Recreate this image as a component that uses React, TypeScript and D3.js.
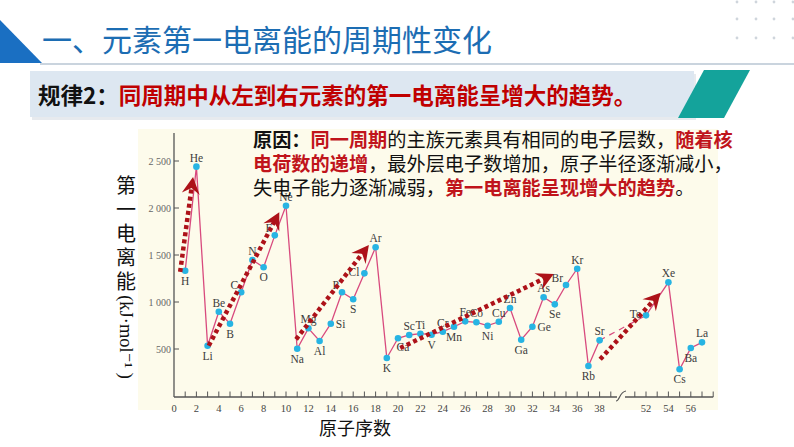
import React from "react";
import * as d3 from "d3";

const symbols = ["H","He","Li","Be","B","C","N","O","F","Ne","Na","Mg","Al","Si","P","S","Cl","Ar","K","Ca","Sc","Ti","V","Cr","Mn","Fe","Co","Ni","Cu","Zn","Ga","Ge","As","Se","Br","Kr","Rb","Sr","Te","Xe","Cs","Ba","La"];
const atomicNumbers = [1,2,3,4,5,6,7,8,9,10,11,12,13,14,15,16,17,18,19,20,21,22,23,24,25,26,27,28,29,30,31,32,33,34,35,36,37,38,52,54,55,56,57];
const energies = [1333,2440,535,897,769,1103,1447,1369,1709,2024,503,720,585,769,1103,1029,1305,1582,404,614,649,663,652,684,737,794,784,748,790,936,599,737,1050,975,1181,1354,319,592,858,1209,284,511,571];
const labelPlacement = ["b","t","b","t","b","tl","t","b","tl","t","b","t","b","r","tl","b","l","t","b","br","t","t","b","t","b","t","t","b","t","t","b","r","t","b","tl","t","b","t","l","t","b","b","t"];

const yTicks = [500, 1000, 1500, 2000, 2500];
const yTickLabels = ["500", "1 000", "1 500", "2 000", "2 500"];
const xTickLabels = [0,2,4,6,8,10,12,14,16,18,20,22,24,26,28,30,32,34,36,38,52,54,56];
const xMinorTicks = [1,2,3,4,5,6,7,8,9,10,11,12,13,14,15,16,17,18,19,20,21,22,23,24,25,26,27,28,29,30,31,32,33,34,35,36,37,38,39,51,52,53,54,55,56,57,58];

// trend arrows: [startN, startE, tipN, tipE]
const trendArrows = [
  [0.55, 1320, 1.7, 2330],
  [3.1, 535, 9.4, 1954],
  [10.9, 603, 17.4, 1606],
  [20.2, 510, 33.9, 1298],
  [38.05, 390, 53.3, 1099],
];

const yLabelText = "第一电离能";

const CJK = "'Noto Sans CJK SC', 'Noto Sans', sans-serif";
const SERIF = "'Liberation Serif', 'DejaVu Serif', serif";

export default function App() {
  const x = d3.scaleLinear().domain([0, 39, 51, 58]).range([174, 610.8, 634.8, 713.2]);
  const y = d3.scaleLinear().domain([0, 2500]).range([396, 161]);

  const pts = atomicNumbers.map((n, i) => ({ n, e: energies[i], s: symbols[i], p: labelPlacement[i] }));
  const srIdx = symbols.indexOf("Sr");
  const line = d3.line<any>().x((d) => x(d.n)).y((d) => y(d.e));
  const seg1 = pts.slice(0, srIdx + 1);
  const segDash = pts.slice(srIdx, srIdx + 2);
  const seg2 = pts.slice(srIdx + 1);

  const labelAttrs = (d: any) => {
    const cx = x(d.n), cy = y(d.e);
    switch (d.p) {
      case "t": return { x: cx, y: cy - 5, anchor: "middle" };
      case "b": return { x: cx, y: cy + 14, anchor: "middle" };
      case "l": return { x: cx - 5, y: cy + 3, anchor: "end" };
      case "r": return { x: cx + 5, y: cy + 4, anchor: "start" };
      case "tl": return { x: cx - 3, y: cy - 3, anchor: "end" };
      case "br": return { x: cx + 5, y: cy + 13, anchor: "middle" };
      default: return { x: cx, y: cy - 5, anchor: "middle" };
    }
  };

  const arrowRed = "#ad1219";

  return (
    <svg width={794} height={447} style={{ position: "absolute", left: 0, top: 0, background: "#fff" }}>
      {/* top-right dots */}
      {[737, 756, 774, 793].map((dx) =>
        [2, 19, 38].map((dy) => <circle key={dx + "-" + dy} cx={dx} cy={dy} r={1.4} fill="#cfd5dc" />)
      )}
      {/* title */}
      <path d="M0,20 L42,63 L0,63 Z" fill="#1a6fc2" />
      <line x1={40} y1={64} x2={794} y2={64} stroke="#b9c6d3" strokeWidth={1.5} />
      <text x={42} y={51} fontFamily={CJK} fontSize={30} fill="#1c6db3">一、元素第一电离能的周期性变化</text>

      {/* rule banner */}
      <rect x={32} y={74} width={664} height={46} fill="#cfd6de" opacity={0.5} />
      <rect x={30} y={71} width={664} height={46} fill="#dde7f1" />
      <path d="M704,70 L750,70 L724,118 L678,118 Z" fill="#14a39b" />
      <text x={38} y={104} fontFamily={CJK} fontSize={22.5} fontWeight={700}>
        <tspan fill="#111">规律2：</tspan>
        <tspan fill="#c00000">同周期中从左到右元素的第一电离能呈增大的趋势。</tspan>
      </text>

      {/* chart background */}
      <rect x={138} y={129} width={580} height={281} fill="#fdfbeb" />

      {/* axes */}
      <line x1={174} y1={133} x2={174} y2={397} stroke="#555" strokeWidth={1.3} />
      <line x1={174} y1={397} x2={617} y2={397} stroke="#555" strokeWidth={1.3} />
      <line x1={625} y1={397} x2={713.2} y2={397} stroke="#555" strokeWidth={1.3} />
      <path d="M616,401 C620,401 619,392 626,391" fill="none" stroke="#555" strokeWidth={1.2} />
      {yTicks.map((v, i) => (
        <g key={v}>
          <line x1={174} x2={179} y1={y(v)} y2={y(v)} stroke="#555" strokeWidth={1} />
          <text x={171} y={y(v) + 3.5} textAnchor="end" fontFamily={SERIF} fontSize={10} fill="#666">{yTickLabels[i]}</text>
        </g>
      ))}
      {xMinorTicks.map((n) => (
        <line key={n} x1={x(n)} x2={x(n)} y1={397} y2={391.5} stroke="#555" strokeWidth={1} />
      ))}
      {xTickLabels.map((n) => (
        <text key={n} x={x(n)} y={412} textAnchor="middle" fontFamily={SERIF} fontSize={10.5} fill="#444">{n}</text>
      ))}

      {/* axis titles */}
      <text x={355} y={435} textAnchor="middle" fontFamily={CJK} fontSize={18} fill="#111">原子序数</text>
      <text x={126} y={175} fontFamily={CJK} fontSize={20} fill="#111"
        style={{ writingMode: "vertical-rl", letterSpacing: "4px" } as any}>{yLabelText}</text>
      <text transform="translate(120,337) rotate(90)" textAnchor="middle" fontFamily={SERIF} fontSize={18.5} fill="#111">(kJ·mol⁻¹ )</text>

      {/* data line */}
      <path d={line(seg1) || ""} fill="none" stroke="#d84a7e" strokeWidth={1.3} />
      <path d={line(segDash) || ""} fill="none" stroke="#d84a7e" strokeWidth={1.2} strokeDasharray="6 5" />
      <path d={line(seg2) || ""} fill="none" stroke="#d84a7e" strokeWidth={1.3} />
      {pts.map((d) => (
        <circle key={d.s} cx={x(d.n)} cy={y(d.e)} r={3.3} fill="#27b4e3" />
      ))}
      {pts.map((d) => {
        const a = labelAttrs(d);
        return (
          <text key={"l" + d.s} x={a.x} y={a.y} textAnchor={a.anchor as any} fontFamily={SERIF} fontSize={11.5} fill="#3c3c3c">{d.s}</text>
        );
      })}

      {/* trend arrows */}
      {trendArrows.map((a, i) => {
        const sx = x(a[0]), sy = y(a[1]), tx = x(a[2]), ty = y(a[3]);
        const ang = Math.atan2(ty - sy, tx - sx);
        const ex = tx - Math.cos(ang) * 9, ey = ty - Math.sin(ang) * 9;
        const deg = (ang * 180) / Math.PI;
        return (
          <g key={i}>
            <line x1={sx} y1={sy} x2={ex} y2={ey} stroke={arrowRed} strokeWidth={4.5} strokeDasharray="4 3.2" />
            <path d="M0,0 L-17,-9 L-11,0 L-17,9 Z" fill={arrowRed} transform={`translate(${tx},${ty}) rotate(${deg})`} />
          </g>
        );
      })}

      {/* reason text */}
      <text x={253} y={147} fontFamily={CJK} fontSize={19.2}>
        <tspan fill="#111" fontWeight={700}>原因：</tspan>
        <tspan fill="#c0141b" fontWeight={700}>同一周期</tspan>
        <tspan fill="#111">的主族元素具有相同的电子层数，</tspan>
        <tspan fill="#c0141b" fontWeight={700}>随着核</tspan>
        <tspan x={253} y={171} fill="#c0141b" fontWeight={700}>电荷数的递增</tspan>
        <tspan fill="#111">，最外层电子数增加，原子半径逐渐减小，</tspan>
        <tspan x={253} y={195} fill="#111">失电子能力逐渐减弱，</tspan>
        <tspan fill="#c0141b" fontWeight={700}>第一电离能呈现增大的趋势</tspan>
        <tspan fill="#111">。</tspan>
      </text>
    </svg>
  );
}
